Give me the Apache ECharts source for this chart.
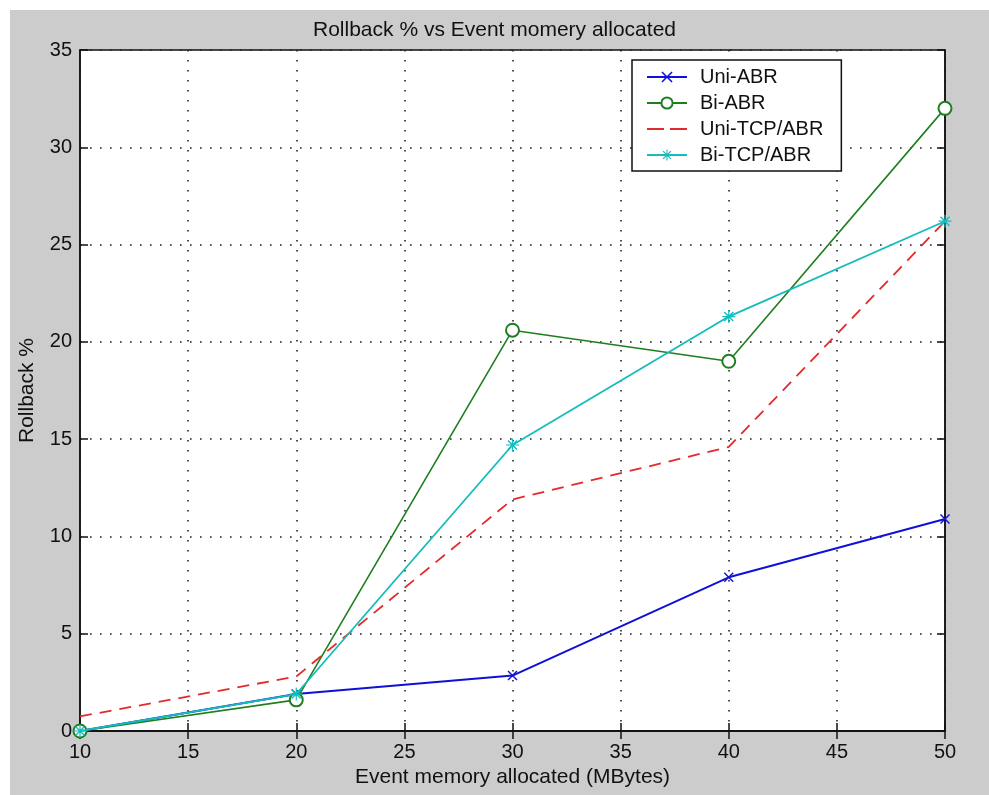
<!DOCTYPE html>
<html>
<head>
<meta charset="utf-8">
<script src="https://cdn.jsdelivr.net/npm/echarts@6/dist/echarts.min.js"></script>
<style>html,body{margin:0;padding:0;background:#fff}#c{width:989px;height:795px}</style>
</head>
<body>
<div id="c"></div>
<script>
var xValues = [10, 20, 30, 40, 50];
var uniABR = [0, 1.9, 2.85, 7.9, 10.9];
var biABR = [0, 1.6, 20.6, 19.0, 32.0];
var uniTCP = [0.75, 2.8, 11.9, 14.6, 26.2];
var biTCP = [0, 1.9, 14.7, 21.3, 26.2];
var seriesNames = ['Uni-ABR', 'Bi-ABR', 'Uni-TCP/ABR', 'Bi-TCP/ABR'];
var titleText = 'Rollback % vs Event momery allocated';
var xName = 'Event memory allocated (MBytes)';
var yName = 'Rollback %';

function pairs(vals) { return xValues.map(function (x, i) { return [x, vals[i]]; }); }

var XSYM = 'path://M0,1L1,0L5,4L9,0L10,1L6,5L10,9L9,10L5,6L1,10L0,9L4,5Z';
var STAR = 'path://M0,1L1,0L5,4L9,0L10,1L6,5L10,9L9,10L5,6L1,10L0,9L4,5ZM4.4,-1.5L5.6,-1.5L5.6,11.5L4.4,11.5ZM-1.5,4.4L11.5,4.4L11.5,5.6L-1.5,5.6Z';
var DASH_ICON = 'path://M0,0h0.05v0.05h-0.05zM0,6.1h17v1.8h-17zM23,6.1h17v1.8h-17zM40,14h-0.05v-0.05h0.05z';

var C_BLUE = '#1010d8', C_GREEN = '#1f7f1f', C_RED = '#e32b2b', C_CYAN = '#14bcbc';
var SANS = '"Liberation Sans", Arial, sans-serif';

var chart = echarts.init(document.getElementById('c'), null, {renderer: 'canvas'});
var dotted = {type: [1.6, 8.4], color: '#222', width: 1.6};

chart.setOption({
  backgroundColor: '#ffffff',
  animation: false,
  graphic: [{type: 'rect', z: -10, silent: true, shape: {x: 10, y: 10, width: 979, height: 785}, style: {fill: '#cccccc'}}],
  title: {text: titleText, left: 'center', top: 15, textStyle: {fontFamily: SANS, fontWeight: 'normal', fontSize: 21, color: '#111'}},
  grid: {left: 80, right: 44, top: 50, bottom: 64, show: true, backgroundColor: '#ffffff', borderColor: '#111', borderWidth: 1.5},
  legend: {
    orient: 'vertical', left: 632, top: 60,
    backgroundColor: '#ffffff', borderColor: '#111', borderWidth: 1.5,
    padding: [7, 18, 6, 14], itemGap: 6, itemWidth: 40, itemHeight: 14,
    textStyle: {fontFamily: SANS, fontSize: 20, color: '#111', lineHeight: 20, padding: [0, 0, 0, 8]},
    data: [seriesNames[0], seriesNames[1], {name: seriesNames[2], icon: DASH_ICON}, seriesNames[3]]
  },
  xAxis: [{
    type: 'value', min: 10, max: 50, interval: 5, position: 'bottom',
    name: xName, nameLocation: 'middle', nameGap: 36,
    nameTextStyle: {fontFamily: SANS, fontSize: 21, color: '#111'},
    axisLine: {show: true, lineStyle: {color: '#111', width: 1.5}},
    axisTick: {show: true, inside: true, length: 8, lineStyle: {color: '#111', width: 1.5}},
    axisLabel: {margin: 11, fontFamily: SANS, fontSize: 20, color: '#111'},
    splitLine: {show: true, lineStyle: dotted}
  }, {
    type: 'value', min: 10, max: 50, interval: 5, position: 'top',
    axisLine: {show: true, lineStyle: {color: '#111', width: 1.5}},
    axisTick: {show: true, inside: true, length: 8, lineStyle: {color: '#111', width: 1.5}},
    axisLabel: {show: false}, splitLine: {show: false}
  }],
  yAxis: [{
    type: 'value', min: 0, max: 35, interval: 5, position: 'left',
    name: yName, nameLocation: 'middle', nameGap: 42, nameRotate: 90,
    nameTextStyle: {fontFamily: SANS, fontSize: 21, color: '#111'},
    axisLine: {show: true, lineStyle: {color: '#111', width: 1.5}},
    axisTick: {show: true, inside: true, length: 8, lineStyle: {color: '#111', width: 1.5}},
    axisLabel: {margin: 8, fontFamily: SANS, fontSize: 20, color: '#111'},
    splitLine: {show: true, lineStyle: dotted}
  }, {
    type: 'value', min: 0, max: 35, interval: 5, position: 'right',
    axisLine: {show: true, lineStyle: {color: '#111', width: 1.5}},
    axisTick: {show: true, inside: true, length: 8, lineStyle: {color: '#111', width: 1.5}},
    axisLabel: {show: false}, splitLine: {show: false}
  }],
  series: [
    {name: seriesNames[0], type: 'line', data: pairs(uniABR), symbol: XSYM, symbolSize: 10, showAllSymbol: true,
     lineStyle: {color: C_BLUE, width: 2}, itemStyle: {color: C_BLUE}, z: 2},
    {name: seriesNames[1], type: 'line', data: pairs(biABR), symbol: 'emptyCircle', symbolSize: 13,
     lineStyle: {color: C_GREEN, width: 1.6}, itemStyle: {color: C_GREEN, borderColor: C_GREEN, borderWidth: 1.6}, z: 3},
    {name: seriesNames[2], type: 'line', data: pairs(uniTCP), symbol: 'none',
     lineStyle: {color: C_RED, width: 1.8, type: [12, 8]}, itemStyle: {color: C_RED}, z: 4},
    {name: seriesNames[3], type: 'line', data: pairs(biTCP), symbol: STAR, symbolSize: 13,
     lineStyle: {color: C_CYAN, width: 1.8}, itemStyle: {color: C_CYAN}, z: 5}
  ]
});
</script>
</body>
</html>
